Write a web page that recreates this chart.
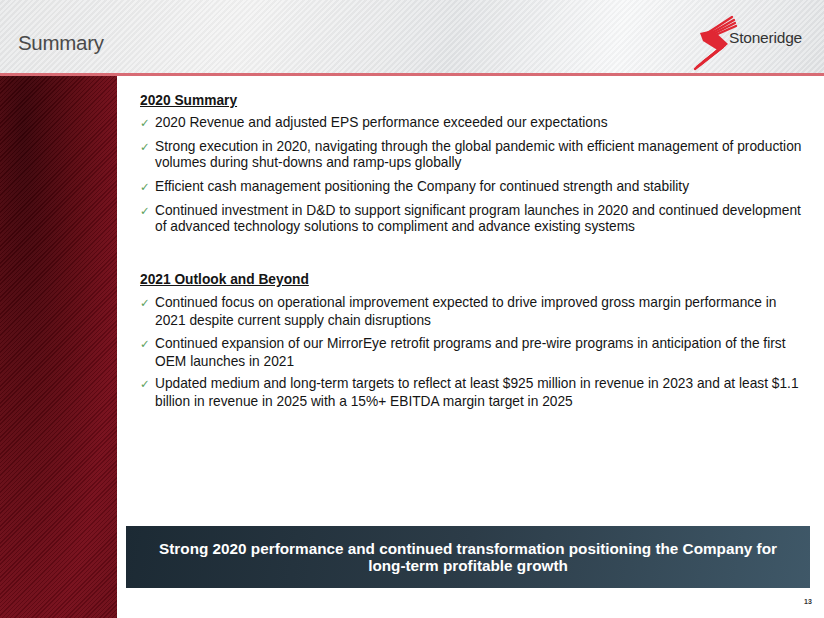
<!DOCTYPE html>
<html><head><meta charset="utf-8">
<script src="https://cdn.jsdelivr.net/npm/chart.js@4.4.1/dist/chart.umd.min.js"></script>
<style>
html,body{margin:0;padding:0;width:824px;height:618px;overflow:hidden;background:#fff;font-family:"Liberation Sans",Arial,sans-serif;}
#header{position:absolute;left:0;top:0;width:824px;height:73px;
 background:linear-gradient(100deg,#e6e7e8 0%,#f2f2f2 30%,#e2e4e6 55%,#f7f8f9 75%,#e0e2e4 100%);}
#header:after{content:"";position:absolute;left:0;top:0;right:0;bottom:0;
 background:repeating-linear-gradient(135deg,rgba(255,255,255,0.25) 0 2px,rgba(0,0,0,0.025) 2px 4px);}
#redline{position:absolute;left:0;top:73px;width:824px;height:3px;background:#d86b74;}
#title{position:absolute;left:18px;top:31px;font-size:20.5px;color:#4a4a4a;letter-spacing:-0.3px;}
#left{position:absolute;left:0;top:76px;width:117px;height:542px;
 background:radial-gradient(ellipse at 20% 10%,#3a0208 0%,#58070f 35%,#760c19 75%,#6c0b16 100%);}
#left:after{content:"";position:absolute;left:0;top:0;right:0;bottom:0;
 background:repeating-linear-gradient(135deg,rgba(0,0,0,0.16) 0 1px,rgba(255,255,255,0.03) 1px 3px);}
#content{position:absolute;left:140px;top:93px;width:663px;font-size:13.75px;color:#151515;}
h3{margin:0 0 6px 0;font-size:13.75px;font-weight:bold;text-decoration:underline;line-height:16px;}
.b{position:relative;padding-left:15px;line-height:16px;margin-bottom:8px;}
.s2 .b{line-height:18px;margin-bottom:4.5px;}
.b:before{content:"\2713";position:absolute;left:0;top:0;color:#5fa35f;font-family:"DejaVu Sans";font-size:11.5px;}
#banner{position:absolute;left:126px;top:526px;width:684px;height:62px;
 background:linear-gradient(100deg,#1c2a34 0%,#2c3c48 50%,#3f5868 100%);
 color:#fff;font-weight:bold;font-size:15.3px;text-align:center;line-height:17px;display:flex;align-items:center;justify-content:center;}
#banner span{display:block;width:640px;}
#page{position:absolute;left:804px;top:598px;font-size:7px;color:#333;font-weight:bold;}
#logo{position:absolute;left:688px;top:12px;}
#logotext{position:absolute;left:729px;top:29px;font-size:15.5px;color:#333;letter-spacing:-0.2px;}
</style></head>
<body>
<div id="header"></div>
<div id="redline"></div>
<div id="title"></div>
<svg id="logo" width="60" height="64" viewBox="0 0 60 64">
 <g stroke="#e02733" stroke-width="2.3" fill="none" stroke-linecap="round">
  <line x1="44" y1="5" x2="18" y2="22"/>
  <line x1="46" y1="8" x2="18" y2="24"/>
  <line x1="47" y1="11" x2="17" y2="26"/>
  <line x1="48" y1="14" x2="16" y2="28"/>
  <line x1="37" y1="33" x2="15" y2="50"/>
  <line x1="35" y1="35" x2="12" y2="53"/>
  <line x1="33" y1="36" x2="9" y2="55"/>
  <line x1="31" y1="37" x2="7" y2="57"/>
 </g>
 <polygon fill="#e02733" points="12,21 25,18 40,32 31,39 15,29"/>
</svg>
<div id="logotext">Stoneridge</div>
<div id="left"></div>
<div id="content"></div>
<div id="banner"><span id="bannertext"></span></div>
<div id="page"></div>
<script>
const slideTitle = "Summary";
const section1Title = "2020 Summary";
const section1Bullets = [
 "2020 Revenue and adjusted EPS performance exceeded our expectations",
 "Strong execution in 2020, navigating through the global pandemic with efficient management of production volumes during shut-downs and ramp-ups globally",
 "Efficient cash management positioning the Company for continued strength and stability",
 "Continued investment in D&D to support significant program launches in 2020 and continued development of advanced technology solutions to compliment and advance existing systems"
];
const section2Title = "2021 Outlook and Beyond";
const section2Bullets = [
 "Continued focus on operational improvement expected to drive improved gross margin performance in 2021 despite current supply chain disruptions",
 "Continued expansion of our MirrorEye retrofit programs and pre-wire programs in anticipation of the first OEM launches in 2021",
 "Updated medium and long-term targets to reflect at least $925 million in revenue in 2023 and at least $1.1 billion in revenue in 2025 with a 15%+ EBITDA margin target in 2025"
];
const bannerText = "Strong 2020 performance and continued transformation positioning the Company for long-term profitable growth";
const pageNumber = "13";

document.getElementById('title').textContent = slideTitle;
document.getElementById('bannertext').textContent = bannerText;
document.getElementById('page').textContent = pageNumber;
const c = document.getElementById('content');
function section(t, items, extraTop, cls){
  const w = document.createElement('div'); w.className = cls;
  const h = document.createElement('h3'); h.textContent = t;
  if(extraTop) h.style.marginTop = extraTop + 'px';
  w.appendChild(h);
  items.forEach(s=>{const d=document.createElement('div');d.className='b';d.textContent=s;w.appendChild(d);});
  c.appendChild(w);
}
section(section1Title, section1Bullets, 0, 's1');
section(section2Title, section2Bullets, 37, 's2');
</script>
</body></html>
